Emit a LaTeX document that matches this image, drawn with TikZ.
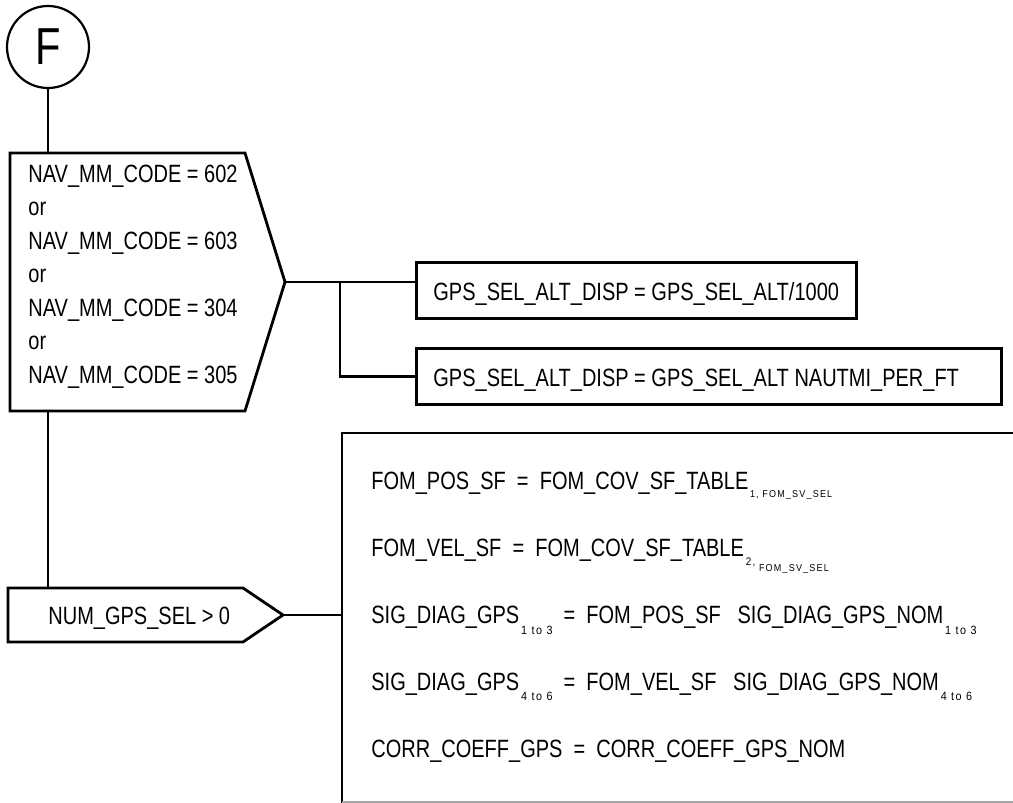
\documentclass[tikz,border=0pt]{standalone}
\usepackage{fontspec}
\setmainfont{Liberation Sans}[FakeStretch=0.8]
\newfontfamily\subfont{Liberation Sans}[LetterSpace=12,FakeStretch=0.9]
\newcommand{\lowsub}[3]{\raisebox{-#2pt}{\subfont\fontsize{#1}{#1}\selectfont #3}}
\begin{document}
\begin{tikzpicture}[x=1pt,y=-1pt, line width=2.8pt, line join=miter,
  txt/.style={anchor=base west, inner sep=0pt, font=\fontsize{25}{30}\selectfont},
  shapeline/.style={draw, line width=2.8pt},
  conn/.style={draw, line width=2.8pt}]
\useasboundingbox (0,0) rectangle (1013,803);

% connector circle
\node[circle, draw, line width=2.2pt, minimum size=82pt, inner sep=0pt,
      font=\fontsize{52}{60}\selectfont] (F) at (48,47) {F};

% decision 1
\coordinate (d1top) at (48,153);
\coordinate (d1bot) at (48,411);
\coordinate (d1tip) at (285,282);
\draw[shapeline] (10,153) -- (245,153) -- (d1tip) -- (245,411) -- (10,411) -- cycle;
\node[txt] (n1) at (27,182) {NAV\_MM\_CODE = 602};
\node[txt] (n2) at (27,215.5) {or};
\node[txt] (n3) at (27,249) {NAV\_MM\_CODE = 603};
\node[txt] (n4) at (27,282.5) {or};
\node[txt] (n5) at (27,316) {NAV\_MM\_CODE = 304};
\node[txt] (n6) at (27,349.5) {or};
\node[txt] (n7) at (27,383) {NAV\_MM\_CODE = 305};

% process boxes
\node[draw, line width=2.8pt, minimum width=440pt, minimum height=56pt, inner sep=0pt,
      anchor=west] (b1) at (415,290.5) {};
\node[txt] (b1t) at (432,300) {GPS\_SEL\_ALT\_DISP = GPS\_SEL\_ALT/1000};
\node[draw, line width=2.8pt, minimum width=585pt, minimum height=56pt, inner sep=0pt,
      anchor=west] (b2) at (415,376.5) {};
\node[txt] (b2t) at (432,386) {GPS\_SEL\_ALT\_DISP = GPS\_SEL\_ALT NAUTMI\_PER\_FT};

\coordinate (br) at (340,282);
\draw[conn] (d1tip) -- (d1tip -| b1.west);
\draw[conn] (br) |- (b2.west);

% connectors vertical
\draw[conn] (F.south) -- (d1top);

% decision 2
\coordinate (d2top) at (48,588);
\coordinate (d2tip) at (283,615);
\draw[shapeline] (8,588) -- (243,588) -- (d2tip) -- (243,642) -- (8,642) -- cycle;
\node[txt] (m1) at (47,624) {NUM\_GPS\_SEL > 0};
\draw[conn] (d1bot) -- (d2top);

% open block
\coordinate (blk) at (342,615);
\coordinate (blktl) at (342,433);
\coordinate (blktr) at (1013,433);
\coordinate (blkbl) at (342,803);
\draw[conn] (d2tip) -- (blk);
\draw[line width=2.8pt] (blktr) -- (blktl) -- (blkbl);
\draw[gray!70, line width=1.5pt] (342,802) -- (1013,802);

\node[txt] (s1) at (370,489) {FOM\_POS\_SF\ \ =\ \ FOM\_COV\_SF\_TABLE\lowsub{10}{8}{\,1,\ FOM\_SV\_SEL}};
\node[txt] (s2) at (370,556) {FOM\_VEL\_SF\ \ =\ \ FOM\_COV\_SF\_TABLE\lowsub{11}{9}{\,2,}\lowsub{10}{15}{\ FOM\_SV\_SEL}};
\node[txt] (s3) at (370,623) {SIG\_DIAG\_GPS\lowsub{12}{11}{\,1 to 3}\ \ =\ \ FOM\_POS\_SF\ \ \ SIG\_DIAG\_GPS\_NOM\lowsub{12}{11}{\,1 to 3}};
\node[txt] (s4) at (370,690) {SIG\_DIAG\_GPS\lowsub{12}{10}{\,4 to 6}\ \ =\ \ FOM\_VEL\_SF\ \ \ SIG\_DIAG\_GPS\_NOM\lowsub{12}{10}{\,4 to 6}};
\node[txt] (s5) at (370,757) {CORR\_COEFF\_GPS\ \ =\ \ CORR\_COEFF\_GPS\_NOM};
\end{tikzpicture}
\end{document}
